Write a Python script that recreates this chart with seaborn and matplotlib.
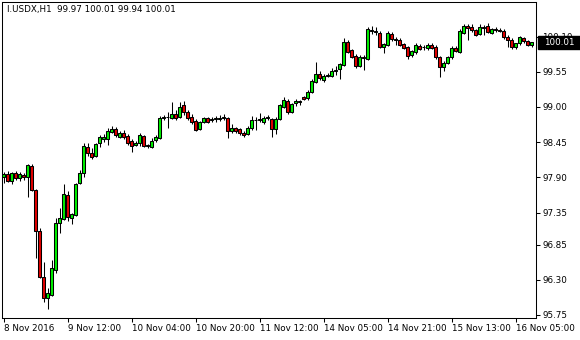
import numpy as np
import pandas as pd
import matplotlib
matplotlib.use("Agg")
import matplotlib.pyplot as plt
import matplotlib.transforms as mtransforms
from matplotlib.patches import Rectangle
import seaborn as sns

header = "I.USDX,H1  99.97 100.01 99.94 100.01"

opens = [97.91, 97.95, 97.84, 97.97, 97.89, 97.94, 97.91, 98.08, 97.70, 97.06,
         96.34, 96.02, 96.07, 96.45, 97.19, 97.25, 97.63, 97.27, 97.31, 97.81,
         97.97, 98.38, 98.28, 98.23, 98.44, 98.50, 98.50, 98.61, 98.66, 98.53,
         98.59, 98.55, 98.47, 98.41, 98.44, 98.55, 98.39, 98.38, 98.48, 98.52,
         98.83, 98.84, 98.83, 98.89, 98.84, 99.03, 98.92, 98.84, 98.78, 98.66,
         98.77, 98.83, 98.80, 98.81, 98.81, 98.83, 98.83, 98.63, 98.67, 98.66,
         98.59, 98.58, 98.67, 98.80, 98.79, 98.77, 98.83, 98.81, 98.66, 98.81,
         99.00, 99.09, 98.92, 99.06, 99.08, 99.16, 99.14, 99.23, 99.39, 99.52,
         99.42, 99.48, 99.48, 99.56, 99.59, 99.66, 100.02, 99.89, 99.80, 99.64,
         99.77, 99.75, 100.20, 100.19, 100.16, 99.94, 99.97, 100.14, 100.06, 100.05,
         99.98, 99.94, 99.81, 99.86, 99.95, 99.94, 99.92, 99.97, 99.94, 99.78,
         99.63, 99.69, 99.78, 99.92, 99.86, 100.16, 100.27, 100.25, 100.20, 100.14,
         100.25, 100.27, 100.16, 100.22, 100.20, 100.19, 100.09, 100.05, 99.94, 100.00,
         100.08, 100.03, 99.97]

highs = [97.98, 98.00, 97.98, 98.00, 97.98, 97.97, 98.11, 98.11, 97.72, 97.11,
         96.58, 96.17, 96.61, 97.27, 97.42, 97.80, 97.69, 97.34, 97.81, 98.02,
         98.44, 98.44, 98.36, 98.44, 98.56, 98.58, 98.67, 98.70, 98.69, 98.63,
         98.64, 98.58, 98.50, 98.47, 98.59, 98.56, 98.42, 98.52, 98.56, 98.86,
         98.88, 98.92, 99.08, 98.95, 99.08, 99.09, 98.95, 98.89, 98.81, 98.78,
         98.84, 98.84, 98.84, 98.86, 98.88, 98.89, 98.84, 98.73, 98.69, 98.67,
         98.63, 98.70, 98.86, 98.84, 98.91, 98.86, 98.88, 98.83, 98.84, 99.05,
         99.16, 99.13, 99.06, 99.13, 99.11, 99.17, 99.27, 99.44, 99.70, 99.56,
         99.52, 99.53, 99.61, 99.64, 99.69, 100.08, 100.05, 99.91, 99.83, 99.81,
         99.81, 100.25, 100.27, 100.25, 100.19, 100.00, 100.19, 100.17, 100.09, 100.08,
         100.00, 99.95, 99.89, 100.00, 99.98, 99.97, 100.00, 100.00, 99.97, 99.80,
         99.72, 99.80, 99.95, 99.95, 100.22, 100.30, 100.30, 100.30, 100.22, 100.30,
         100.28, 100.31, 100.24, 100.25, 100.23, 100.22, 100.13, 100.08, 100.00, 100.11,
         100.09, 100.05, 100.01]

lows = [97.81, 97.83, 97.80, 97.86, 97.84, 97.86, 97.59, 97.69, 96.64, 96.33,
        95.95, 95.84, 96.05, 96.41, 97.03, 97.23, 97.22, 97.17, 97.30, 97.80,
        97.91, 98.23, 98.19, 98.22, 98.38, 98.45, 98.41, 98.59, 98.53, 98.52,
        98.50, 98.41, 98.30, 98.39, 98.39, 98.38, 98.36, 98.36, 98.45, 98.50,
        98.80, 98.67, 98.81, 98.80, 98.83, 98.88, 98.80, 98.73, 98.63, 98.64,
        98.75, 98.75, 98.77, 98.77, 98.78, 98.80, 98.52, 98.59, 98.59, 98.56,
        98.53, 98.56, 98.64, 98.64, 98.77, 98.73, 98.80, 98.53, 98.58, 98.80,
        98.98, 98.89, 98.91, 99.02, 99.03, 99.11, 99.11, 99.22, 99.38, 99.42,
        99.39, 99.47, 99.47, 99.50, 99.44, 99.64, 99.84, 99.77, 99.61, 99.63,
        99.58, 99.73, 100.14, 100.13, 99.92, 99.84, 99.95, 100.03, 99.97, 99.95,
        99.91, 99.75, 99.78, 99.83, 99.89, 99.89, 99.89, 99.91, 99.75, 99.47,
        99.56, 99.67, 99.75, 99.86, 99.84, 100.14, 100.05, 100.17, 100.11, 100.13,
        100.13, 100.16, 100.14, 100.17, 100.17, 100.06, 99.94, 99.91, 99.91, 99.97,
        100.00, 99.95, 99.94]

closes = [97.95, 97.84, 97.97, 97.89, 97.95, 97.91, 98.09, 97.70, 97.06, 96.34,
          96.02, 96.09, 96.48, 97.19, 97.27, 97.64, 97.28, 97.33, 97.80, 97.97,
          98.39, 98.28, 98.22, 98.42, 98.53, 98.53, 98.63, 98.66, 98.56, 98.59,
          98.53, 98.44, 98.39, 98.44, 98.56, 98.39, 98.40, 98.47, 98.53, 98.83,
          98.84, 98.85, 98.89, 98.83, 99.00, 98.92, 98.83, 98.77, 98.64, 98.77,
          98.83, 98.77, 98.81, 98.82, 98.83, 98.84, 98.63, 98.67, 98.63, 98.59,
          98.56, 98.67, 98.80, 98.79, 98.81, 98.83, 98.84, 98.66, 98.81, 99.03,
          99.11, 98.92, 99.05, 99.09, 99.09, 99.13, 99.23, 99.41, 99.52, 99.45,
          99.48, 99.50, 99.56, 99.58, 99.67, 100.02, 99.86, 99.78, 99.64, 99.78,
          99.78, 100.22, 100.19, 100.17, 99.94, 99.98, 100.16, 100.06, 100.05, 99.97,
          99.92, 99.80, 99.88, 99.97, 99.91, 99.93, 99.97, 99.92, 99.78, 99.63,
          99.69, 99.78, 99.92, 99.88, 100.19, 100.27, 100.23, 100.20, 100.13, 100.25,
          100.24, 100.17, 100.22, 100.20, 100.19, 100.09, 100.04, 99.94, 100.00, 100.09,
          100.03, 99.97, 100.01]

time_labels = ["8 Nov 2016", "9 Nov 12:00", "10 Nov 04:00", "10 Nov 20:00",
               "11 Nov 12:00", "14 Nov 05:00", "14 Nov 21:00", "15 Nov 13:00",
               "16 Nov 05:00"]
time_label_bars = [0, 16, 32, 48, 64, 80, 96, 112, 128]
price_ticks = [95.75, 96.30, 96.85, 97.35, 97.90, 98.45, 99.00, 99.55, 100.10]
last_price = 100.01

sns.set_theme(style="white")
plt.rcParams['font.family'] = ['DejaVu Sans']
FS = 6.3

df = pd.DataFrame({"bar": np.arange(len(opens)), "open": opens, "high": highs,
                   "low": lows, "close": closes})
df["up"] = df["close"] >= df["open"]

W, H = 580, 340
fig = plt.figure(figsize=(W / 100, H / 100), dpi=100)
fig.patch.set_facecolor("white")
ax = fig.add_axes([2 / W, 22 / H, 534 / W, 316 / H])
ax.set_facecolor("white")

ax.vlines(df["bar"], df["low"], df["high"], color="black", linewidth=0.75, zorder=2)
colors = np.where(df["up"], "#00ee00", "#e00000")
ax.bar(df["bar"], df["close"] - df["open"], bottom=df["open"], width=0.6,
       color=colors, edgecolor="black", linewidth=0.75, zorder=3)

ax.set_xlim(-0.375, 133.125)
ax.set_ylim(95.703, 100.64)

ax.yaxis.tick_right()
ax.set_yticks(price_ticks)
ax.set_yticklabels([f"{v:.2f}" for v in price_ticks])
ax.set_xticks(time_label_bars)
ax.set_xticklabels(time_labels)
for lbl in ax.get_xticklabels():
    lbl.set_horizontalalignment("left")
ax.tick_params(axis="y", which="both", direction="out", length=3, width=0.75,
               pad=1.5, labelsize=FS, colors="black", right=True, left=False,
               labelright=True, labelleft=False)
ax.tick_params(axis="x", which="both", direction="out", length=3, width=0.75,
               pad=1.5, labelsize=FS, colors="black", bottom=True, top=False)
for s in ax.spines.values():
    s.set_color("black")
    s.set_linewidth(0.75)
    s.set_visible(True)

ax.text(5 / 534, 1 - 3 / 316, header, transform=ax.transAxes, va="top",
        ha="left", fontsize=FS, color="black")

# current-price marker box on the price axis
trans = mtransforms.blended_transform_factory(ax.transAxes, ax.transData)
box_h = 13 / 64.0
ax.add_patch(Rectangle((1 + 2 / 534, last_price - box_h / 2), 42 / 534, box_h,
                       transform=trans, facecolor="black", edgecolor="black",
                       clip_on=False, zorder=9))
ax.text(1 + 23 / 534, last_price, f"{last_price:.2f}", transform=trans,
        va="center", ha="center", fontsize=FS, color="white", zorder=10,
        clip_on=False)

fig.savefig("out.png", dpi=100, facecolor="white")
